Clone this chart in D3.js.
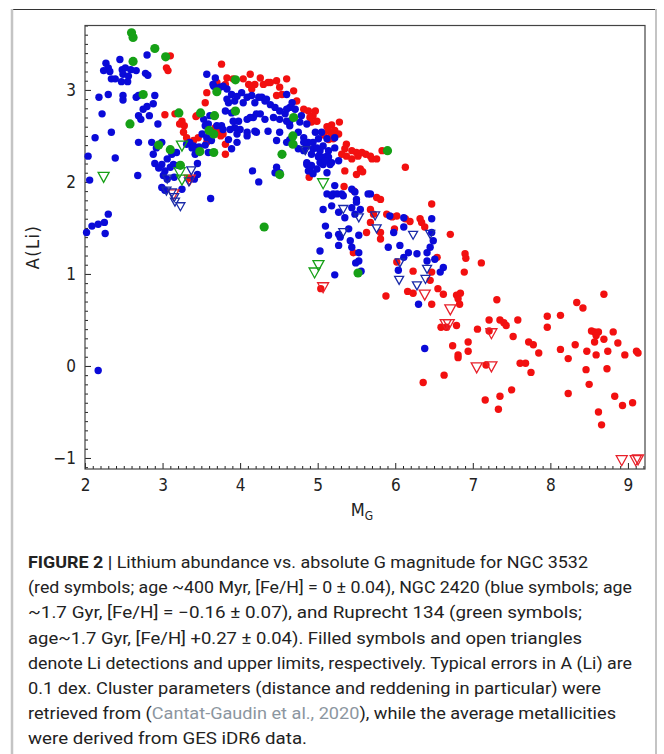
<!DOCTYPE html>
<html><head><meta charset="utf-8">
<script src="https://cdn.jsdelivr.net/npm/d3@7"></script>
<style>body{margin:0;background:#fff}</style>
</head><body><svg id="c" width="664" height="754"></svg>
<script>
const xTicks=[2,3,4,5,6,7,8,9];
const yTicks=[-1,0,1,2,3];

// NGC 3532 (red) detections
const ngc3532Det=[
[3.10,3.37],[3.05,3.24],[3.07,3.21],[3.03,2.73],[3.16,2.74],[3.25,2.66],[3.22,2.63],[3.28,2.61],[3.27,2.54],[3.31,2.48],[3.46,2.48],[3.40,2.45],[3.57,2.43],[3.35,2.04],[3.43,2.71],[3.81,2.41],[3.81,2.30],[3.72,2.57],[3.75,2.50],
[3.76,3.28],[3.83,3.13],[3.91,3.12],[3.81,3.06],[3.70,3.08],[3.57,2.97],[3.55,2.86],[4.13,3.17],[4.26,3.13],[4.19,3.06],[4.15,3.01],[4.30,3.06],[4.36,3.08],[4.47,3.10],[4.60,3.12],[4.51,3.03],[4.54,2.95],[4.47,2.94],[4.69,2.99],[4.73,2.88],[4.82,2.79],[4.88,2.77],[4.97,2.77],[4.94,2.72],[4.99,2.66],[4.04,3.12],[4.11,3.06],[4.39,3.08],[3.44,2.72],[3.68,2.59],[3.78,2.52],[3.93,2.77],[4.92,2.65],[4.90,2.70],
[5.12,2.60],[5.18,2.62],[5.28,2.65],[5.14,2.56],[5.22,2.56],[5.08,2.51],[5.17,2.51],[5.27,2.52],[5.20,2.47],[5.14,2.46],
[5.37,2.41],[5.35,2.36],[5.44,2.34],[5.37,2.28],[5.50,2.32],[5.31,2.30],[5.44,2.25],[5.52,2.28],[5.68,2.28],[5.70,2.25],[5.83,2.34],[5.57,2.32],[5.76,2.25],[5.62,2.30],
[5.35,2.12],[5.55,2.14],[5.50,2.08],[5.58,2.11],[4.89,2.05],[6.13,2.16],[5.34,1.95],[5.47,1.90],
[5.76,1.83],[5.81,1.81],[5.68,1.70],[5.72,1.65],[5.89,1.65],[5.96,1.62],[6.02,1.63],[6.13,1.60],[6.19,1.57],[6.32,1.60],[6.34,1.56],[6.38,1.51],[6.47,1.76],[5.63,1.45],[5.68,1.56],[5.81,1.45],[5.81,1.38],[5.99,1.49],[6.71,1.43],[6.54,1.18],[5.46,1.23],[6.02,1.13],[6.23,1.03],[6.47,1.02],[6.45,0.93],[6.55,0.84],[6.90,1.22],[6.91,1.17],[7.11,1.12],[6.89,1.02],[5.04,0.84],[6.16,0.81],[6.23,0.79],[6.62,0.78],[6.79,0.77],[6.84,0.79],[5.88,0.76],[6.47,0.67],[6.81,0.73],[6.83,0.67],
[7.31,0.72],[7.21,0.50],[7.35,0.50],[7.40,0.47],[7.43,0.44],[7.58,0.50],[7.06,0.40],[7.21,0.38],[6.59,0.42],[6.66,0.42],[6.79,0.44],[7.96,0.54],[8.13,0.55],[7.96,0.42],[8.34,0.69],[8.42,0.63],[8.69,0.78],[7.52,0.32],[7.72,0.26],[7.78,0.23],[7.85,0.14],[8.13,0.18],[8.32,0.23],[8.47,0.16],[8.53,0.38],[8.57,0.37],[8.62,0.37],[8.59,0.33],[8.81,0.37],[8.57,0.26],[8.69,0.29],[8.87,0.25],[6.74,0.22],[6.94,0.26],[6.94,0.16],[6.81,0.12],[6.81,0.09],[7.17,0.01],[7.61,0.03],[7.68,0.03],[7.75,-0.07],[8.23,0.08],[8.46,-0.04],[8.59,0.12],[8.74,0.16],[8.73,-0.03],[8.96,0.12],[9.11,0.16],[9.13,0.14],[6.36,-0.18],[6.63,-0.10],[7.50,-0.26],[7.16,-0.37],[7.35,-0.33],[7.33,-0.47],[8.23,-0.30],[8.50,-0.20],[8.83,-0.33],[8.93,-0.43],[9.06,-0.40],[8.62,-0.50],[8.66,-0.64]
];
// NGC 3532 (red) upper limits
const ngc3532Lim=[[5.07,0.85],[6.38,0.77],[6.71,0.61],[6.65,0.45],[6.69,0.45],[7.24,0.35],[7.05,-0.02],[7.24,-0.01],[8.92,-1.03],[9.10,-1.03],[9.13,-1.02],[3.14,1.86],[3.35,2.02]];

// NGC 2420 (blue) detections
const ngc2420Det=[
[2.45,3.33],[2.27,3.29],[2.24,3.21],[2.30,3.24],[2.32,3.20],[2.34,3.12],[2.39,3.12],[2.48,3.22],[2.52,3.24],[2.49,3.17],[2.56,3.15],[2.59,3.22],[2.47,3.09],[2.55,3.09],[2.66,3.21],[2.80,3.38],[2.78,3.18],[2.81,3.16],[2.18,2.92],[2.30,2.95],[2.49,2.94],[2.49,2.89],[2.66,2.92],[2.69,2.94],[2.90,2.94],[2.22,2.74],[2.75,2.79],[2.80,2.82],[2.88,2.85],[2.69,2.72],[2.72,2.68],[2.83,2.72],[2.94,2.63],[2.34,2.54],[2.13,2.48],[2.69,2.43],[2.04,2.28],[2.39,2.26],[2.06,2.02],[2.68,2.07],[2.86,2.43],[2.92,2.37],[2.99,2.43],[2.90,2.20],[2.99,2.19],[3.03,2.12],[3.01,2.07],[3.10,2.16],[3.14,2.19],[3.20,2.18],[2.99,1.94],[3.03,1.91],[3.25,1.92],[3.31,2.41],[3.35,2.43],[3.38,2.37],[2.30,1.65],[2.09,1.52],[2.17,1.54],[2.25,1.56],[2.26,1.44],[2.02,1.45],[2.17,-0.05],
[2.88,2.30],[2.95,2.15],[3.06,2.25],[3.12,2.30],[3.18,2.32],[3.06,2.03],[3.15,2.05],[3.42,2.30],[3.45,2.20],[3.41,2.03],[3.45,2.08],[3.47,2.38],[3.62,1.82],[4.16,2.12],[4.24,2.00],[4.45,2.10],
[3.57,3.17],[3.65,3.06],[3.74,3.03],[3.83,3.01],[3.89,2.95],[3.85,2.86],[3.93,2.88],[4.02,2.97],[4.09,2.92],[4.15,2.94],[4.19,2.86],[4.28,2.92],[4.32,2.88],[4.39,2.84],[4.45,2.81],[4.51,2.77],[4.58,2.74],[4.64,2.81],[3.81,2.77],[3.89,2.75],[3.98,2.66],[4.09,2.68],[4.17,2.70],[4.26,2.74],[4.32,2.68],[3.76,2.61],[3.87,2.57],[3.91,2.66],[4.00,2.57],[4.09,2.54],[4.21,2.54],[4.47,2.45],[4.51,2.54],[4.64,2.61],[4.75,2.54],[4.82,2.48],[4.86,2.39],[4.94,2.36],[5.03,2.34],[5.12,2.28],[5.01,2.27],[5.07,2.19],[5.18,2.21],[5.22,2.48],[3.89,2.36],[4.47,2.16],[4.51,2.10],[4.86,2.19],[4.90,2.14],[4.94,2.09],[5.12,1.87],[5.20,1.87],[5.33,1.85],[5.22,1.96],[5.68,1.87],[3.42,2.36],[3.40,2.39],
[3.68,3.13],[3.66,3.04],[3.78,3.04],[3.83,2.90],[3.96,2.93],[4.04,2.86],[4.24,2.92],[4.34,2.90],[4.43,2.70],[4.51,2.68],[4.60,2.66],[4.13,2.70],[4.21,2.74],[3.70,2.61],[3.61,2.72],[3.59,2.63],[3.78,2.57],[3.93,2.59],[3.96,2.52],[4.19,2.55],[4.09,2.50],[3.85,2.46],[3.96,2.43],[4.36,2.55],[4.60,2.43],[4.64,2.46],[3.59,2.32],
[3.53,2.68],[3.55,2.61],[3.51,2.52],[3.57,2.48],[3.63,2.45],[3.55,2.40],
[4.60,2.95],[4.67,2.86],[4.60,2.79],[4.71,2.79],[4.79,2.72],[4.64,2.66],[4.77,2.65],[4.86,2.63],[4.97,2.54],[5.05,2.54],[5.01,2.47],[5.12,2.47],[4.94,2.43],[4.88,2.43],[4.82,2.43],[4.99,2.37],[5.07,2.39],[5.14,2.34],[4.69,2.41],[4.67,2.48],[4.75,2.36],[4.82,2.34],[4.92,2.30],[5.01,2.28],[5.07,2.27],[5.14,2.27],[5.03,2.21],[5.10,2.23],[5.16,2.19],[4.86,2.21],[4.92,2.18],[4.88,2.12],[4.99,2.14],[5.22,2.37],[5.27,2.23],[5.12,2.10],
[5.18,1.85],[5.25,1.87],[5.31,1.87],[5.44,1.92],[5.48,1.89],[5.50,1.81],[5.50,1.78],[5.65,1.87],[5.07,1.70],[5.18,1.74],[5.27,1.67],[5.35,1.61],[5.44,1.72],[5.48,1.65],[5.55,1.70],[5.10,1.52],[5.14,1.42],[5.27,1.43],[5.29,1.40],[5.40,1.49],[5.53,1.42],[5.27,1.31],[5.44,1.29],[5.42,1.36],[5.53,1.23],[5.03,1.25],[5.53,1.14],[5.49,1.12],[5.22,0.99],[5.56,1.03],
[5.93,1.63],[6.11,1.61],[5.98,1.45],[6.11,1.51],[5.91,1.29],[6.17,1.23],[6.28,1.22],[6.41,1.23],[6.45,1.29],[6.49,1.36],[6.47,1.45],[6.47,1.60],[6.06,1.31],[6.11,1.18],[6.04,1.04],[6.62,1.07],[6.58,1.02],[6.41,1.14],[6.51,1.16],[6.30,0.67],[6.38,0.19]
];
// NGC 2420 (blue) upper limits
const ngc2420Lim=[[3.06,2.03],[3.05,1.90],[3.12,1.88],[3.15,1.83],[3.16,1.78],[3.23,1.73],[3.37,2.12],[3.34,2.00],[4.84,2.34],[5.33,1.70],[5.33,1.45],[5.53,1.61],[5.74,1.63],[5.76,1.49],[6.23,1.42],[6.45,1.43],[6.06,1.12],[6.05,0.93],[6.28,0.87],[6.41,1.05],[6.39,0.94]];

// Ruprecht 134 (green) detections
const rup134Det=[[2.60,3.62],[2.62,3.57],[2.62,3.31],[2.90,3.45],[3.04,3.36],[2.58,2.63],[2.75,2.95],[2.95,2.40],[3.10,2.35],[3.21,2.75],[3.23,2.18],[3.49,2.75],[3.48,2.33],[3.60,2.56],[3.66,2.52],[3.66,2.32],[3.67,2.72],[3.70,2.98],[3.94,3.11],[3.94,2.77],[4.31,1.51],[4.54,2.30],[4.51,2.08],[4.69,2.70],[4.68,2.50],[4.68,2.41],[5.52,1.01],[5.90,2.34]];
// Ruprecht 134 (green) upper limits
const rup134Lim=[[2.24,2.05],[3.25,2.39],[3.25,2.02],[3.22,2.10],[5.07,1.98],[5.01,1.09],[4.96,1.01]];

const capLines=[
 "(red symbols; age ~400 Myr, [Fe/H] = 0 \u00b1 0.04), NGC 2420 (blue symbols; age",
 "~1.7 Gyr, [Fe/H] = \u22120.16 \u00b1 0.07), and Ruprecht 134 (green symbols;",
 "age~1.7 Gyr, [Fe/H] +0.27 \u00b1 0.04). Filled symbols and open triangles",
 "denote Li detections and upper limits, respectively. Typical errors in A (Li) are",
 "0.1 dex. Cluster parameters (distance and reddening in particular) were"
];

const svg=d3.select("#c");
const x=d3.scaleLinear().domain([2,9.22]).range([85,645]);
const y=d3.scaleLinear().domain([-1.12,3.70]).range([469,25.5]);

// outer figure border
svg.append("line").attr("x1",12).attr("x2",656).attr("y1",9.5).attr("y2",9.5).attr("stroke","#333").attr("stroke-width",1);
svg.append("line").attr("x1",12).attr("x2",12).attr("y1",9).attr("y2",754).attr("stroke","#c4c4c4").attr("stroke-width",2.5);
svg.append("line").attr("x1",656).attr("x2",656).attr("y1",9).attr("y2",754).attr("stroke","#c4c4c4").attr("stroke-width",2);

const font="'Liberation Sans Narrow','DejaVu Sans Condensed','Roboto',sans-serif";
const xMinor=d3.range(21,93).map(v=>v/10).filter(v=>Math.abs(v-Math.round(v))>1e-6);
const yMinor=d3.range(-11,38).map(v=>v/10).filter(v=>Math.abs(v-Math.round(v))>1e-6);

const gx=svg.append("g").attr("transform","translate(0,469)");
gx.call(d3.axisBottom(x).tickValues(xMinor).tickSize(-3).tickFormat(""));
gx.call(g=>g.select(".domain").remove());
const gx2=svg.append("g").attr("transform","translate(0,469)");
gx2.call(d3.axisBottom(x).tickValues(xTicks).tickSize(-6).tickPadding(10).tickFormat(d3.format("d")));
gx2.select(".domain").remove();
const gy=svg.append("g").attr("transform","translate(85,0)");
gy.call(d3.axisLeft(y).tickValues(yMinor).tickSize(-3).tickFormat(""));
gy.select(".domain").remove();
const gy2=svg.append("g").attr("transform","translate(85,0)");
gy2.call(d3.axisLeft(y).tickValues(yTicks).tickSize(-6).tickPadding(9).tickFormat(d=>d<0?"\u2212"+Math.abs(d):d));
gy2.select(".domain").remove();
svg.selectAll(".tick line").attr("stroke","#222");
svg.selectAll(".tick text").attr("font-family",font).attr("font-size",17).attr("fill","#222");

// frame
svg.append("rect").attr("x",85).attr("y",25.5).attr("width",560).attr("height",443.5)
  .attr("fill","none").attr("stroke","#444").attr("stroke-width",1.2);

const RED="#f21010", BLUE="#0a0ad8", GREEN="#16a016";
const plot=svg.append("g");
function dots(data,color,r){
  plot.append("g").selectAll("circle").data(data).join("circle")
   .attr("cx",d=>x(d[0])).attr("cy",d=>y(d[1])).attr("r",r).attr("fill",color);
}
function tris(data,color,w,h){
  plot.append("g").selectAll("path").data(data).join("path")
   .attr("d",`M${-w/2},${-h/2}L${w/2},${-h/2}L0,${h/2}Z`)
   .attr("transform",d=>`translate(${x(d[0])},${y(d[1])})`)
   .attr("fill","none").attr("stroke",color).attr("stroke-width",1.3);
}
dots(ngc3532Det,RED,3.7);
dots(ngc2420Det,BLUE,3.7);
dots(rup134Det,GREEN,4.6);
tris(ngc3532Lim,"#e8202a",11,10);
tris(ngc2420Lim,"#1a2aa8",9,8);
tris(rup134Lim,GREEN,11,10);

// axis titles
svg.append("text").attr("x",362).attr("y",516).attr("text-anchor","middle")
  .attr("font-family",font).attr("font-size",18).attr("fill","#222")
  .html("M<tspan font-size='12' dy='4'>G</tspan>");
svg.append("text").attr("transform","translate(39,247) rotate(-90)").attr("text-anchor","middle")
  .attr("font-family",font).attr("font-size",18).attr("fill","#222").attr("letter-spacing",1.5).text("A(Li)");

// caption
const cf="'Roboto','Liberation Sans',sans-serif";
const lx=28, base=568, step=25.2;
const t1=svg.append("text").attr("x",lx).attr("y",base).attr("font-family",cf).attr("font-size",16.5).attr("fill","#222")
  .attr("textLength",560).attr("lengthAdjust","spacingAndGlyphs");
t1.append("tspan").attr("font-weight","bold").text("FIGURE 2 | ");
t1.append("tspan").text("Lithium abundance vs. absolute G magnitude for NGC 3532");
const widths=[604,554,554,604,573];
capLines.forEach((s,i)=>{
  svg.append("text").attr("x",lx).attr("y",base+step*(i+1)).attr("font-family",cf).attr("font-size",16.5).attr("fill","#222")
   .attr("textLength",widths[i]).attr("lengthAdjust","spacingAndGlyphs").text(s);
});
const t7=svg.append("text").attr("x",lx).attr("y",base+step*6).attr("font-family",cf).attr("font-size",16.5).attr("fill","#222")
  .attr("textLength",588).attr("lengthAdjust","spacingAndGlyphs");
t7.append("tspan").text("retrieved from (");
t7.append("tspan").attr("fill","#8c96a0").text("Cantat-Gaudin et al., 2020");
t7.append("tspan").text("), while the average metallicities");
svg.append("text").attr("x",lx).attr("y",base+step*7).attr("font-family",cf).attr("font-size",16.5).attr("fill","#222")
  .attr("textLength",279).attr("lengthAdjust","spacingAndGlyphs").text("were derived from GES iDR6 data.");
</script></body></html>
